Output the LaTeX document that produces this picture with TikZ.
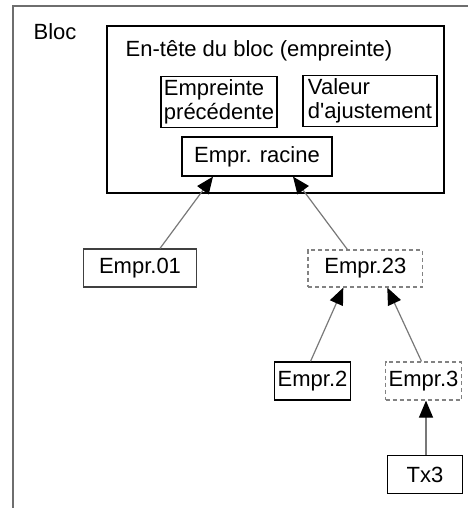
\documentclass[tikz,border=0pt]{standalone}
\usepackage{fontspec}
\setmainfont{Liberation Sans}[Ligatures=TeXOff]
\usepackage{tikz}
\usetikzlibrary{arrows.meta, positioning}
\definecolor{framegray}{RGB}{110, 110, 110}
\definecolor{linkgray}{RGB}{120, 120, 120}
\definecolor{dashgray}{RGB}{130, 130, 130}

\begin{document}
\begin{tikzpicture}[
  x=0.5pt, y=-0.5pt,
  font=\fontsize{11}{12}\selectfont,
  box/.style={draw=#1, line width=0.6pt, inner sep=1.5pt, align=left},
  box/.default=black,
  dbox/.style={box=dashgray, dash pattern=on 2pt off 1.5pt},
  link/.style={draw=linkgray, line width=0.6pt, -{Triangle[length=8.5pt, width=7pt, black]}},
]
  \useasboundingbox (0,0) rectangle (468,508);
  % outer block frame, cut by the page
  \draw[framegray, line width=0.8pt] (13,508) -- (13,6) -- (468,6);
  \node (bloclbl) at (55,32) {Bloc};

  % block header
  \node[box, minimum width=168.5pt, minimum height=83.5pt] (hdr) at (275.5,109.5) {};
  \node (hdrtitle) at (259,51) {En-tête du bloc (empreinte)};
  \node[box, minimum width=58pt, minimum height=25pt] (prev) at (219,102) {Empreinte\\précédente};
  \node[box, minimum width=67pt, minimum height=25pt] (nonce) at (370,101) {Valeur\\d'ajustement};
  \node[box, minimum width=75pt, minimum height=19.5pt, align=center] (racine) at (257,156.5) {Empr. racine};

  % hash tree
  \node[box=black!75, minimum width=56.7pt, minimum height=19pt] (e01) at (140,268) {Empr.01};
  \node[dbox, minimum width=57.3pt, minimum height=18.5pt] (e23) at (365.3,268.5) {Empr.23};
  \node[box, minimum width=37.5pt, minimum height=19pt] (e2) at (312.5,381) {Empr.2};
  \node[dbox, minimum width=35.8pt, minimum height=19pt] (e3) at (423.5,381) {Empr.3};
  \node[box, minimum width=37.3pt, minimum height=18.8pt] (tx3) at (425,474.5) {Tx3};

  \draw[link] ([xshift=10pt]e01.north) -- ([xshift=-22pt]racine.south);
  \draw[link] ([xshift=-9pt]e23.north) -- ([xshift=18pt]racine.south);
  \draw[link] ([xshift=-1pt]e2.north) -- ([xshift=-11pt]e23.south);
  \draw[link] ([xshift=-1pt]e3.north) -- ([xshift=11pt]e23.south);
  \draw[link] ([xshift=0.5pt]tx3.north) -- ([xshift=0.5pt]tx3.north |- e3.south);
\end{tikzpicture}
\end{document}
